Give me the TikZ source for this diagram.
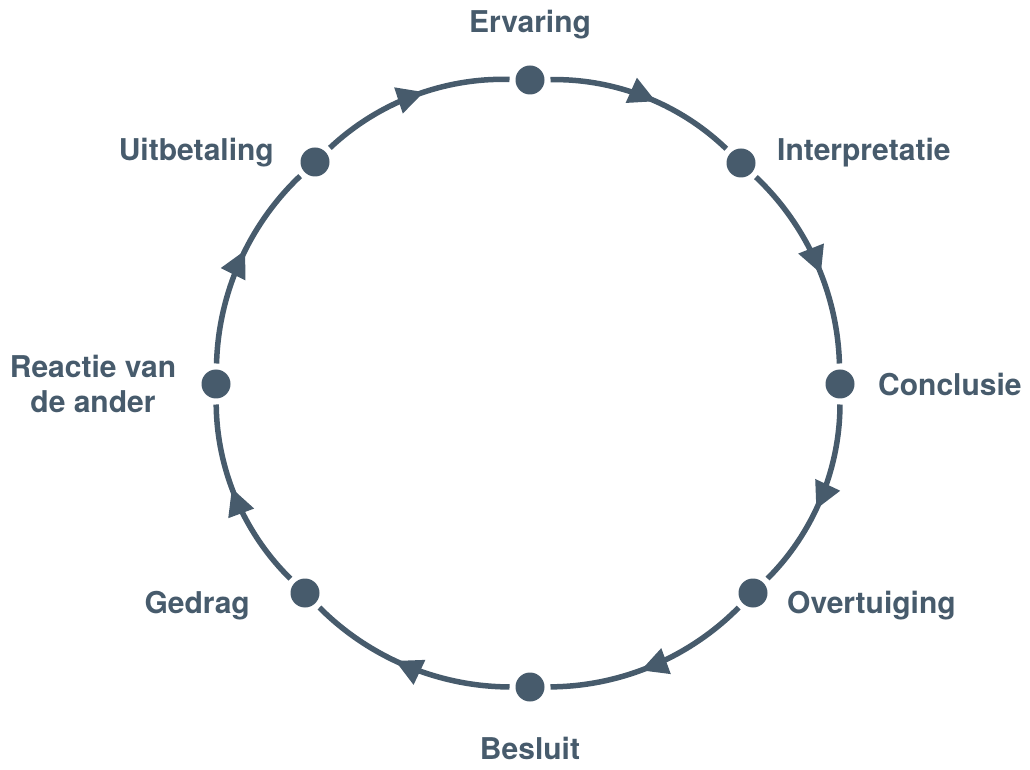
\documentclass[tikz,border=0pt]{standalone}
\usepackage{fontspec}
\setmainfont{TeX Gyre Heros}
\usetikzlibrary{arrows.meta,decorations.markings}
\definecolor{slate}{RGB}{71,91,108}
\begin{document}
\begin{tikzpicture}[x=1pt,y=1pt,
  dot/.style={circle,fill=slate,minimum size=29pt,inner sep=0pt,outer sep=6pt},
  lbl/.style={text=slate,font=\fontsize{30}{35}\selectfont\bfseries,inner sep=0pt},
  link/.style={draw=slate,line width=5.5pt,bend left=22.5,looseness=0.88,
    postaction={decorate},
    decoration={markings,mark=at position 0.56 with {\arrow[slate]{Triangle[length=27pt,width=26pt]}}}}]
\useasboundingbox (0,0) rectangle (1030,769);
% dots
\node[dot] (e1) at (530,689) {};
\node[dot] (e2) at (741,606) {};
\node[dot] (e3) at (840,385) {};
\node[dot] (e4) at (753,176) {};
\node[dot] (e5) at (530,82) {};
\node[dot] (e6) at (305,176) {};
\node[dot] (e7) at (216,385) {};
\node[dot] (e8) at (315,607) {};
% connectors
\draw[link] (e1) to (e2);
\draw[link] (e2) to (e3);
\draw[link] (e3) to (e4);
\draw[link] (e4) to (e5);
\draw[link] (e5) to (e6);
\draw[link] (e6) to (e7);
\draw[link] (e7) to (e8);
\draw[link] (e8) to (e1);
% labels
\node[lbl,anchor=base] (l1) at (530,736) {Ervaring};
\node[lbl,anchor=base west] (l2) at (777,608) {Interpretatie};
\node[lbl,anchor=base west] (l3) at (878,373) {Conclusie};
\node[lbl,anchor=base west] (l4) at (787,156) {Overtuiging};
\node[lbl,anchor=base] (l5) at (530,10) {Besluit};
\node[lbl,anchor=base east] (l6) at (250,156) {Gedrag};
\node[lbl,align=center] (l7) at (93,385) {Reactie van\\de ander};
\node[lbl,anchor=base east] (l8) at (274,608) {Uitbetaling};
\end{tikzpicture}
\end{document}
